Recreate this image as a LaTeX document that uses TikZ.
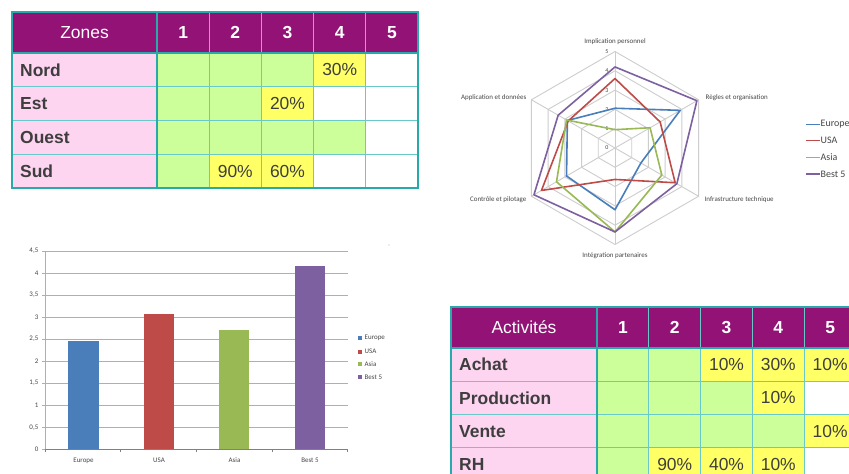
\documentclass[tikz,border=0pt]{standalone}
\usepackage{fontspec}
\setmainfont{Liberation Sans}
\newfontfamily\chartfont{Carlito}
\definecolor{hdr}{RGB}{146,18,118}
\definecolor{pinkc}{RGB}{253,213,241}
\definecolor{cellg}{RGB}{204,255,153}
\definecolor{celly}{RGB}{255,255,102}
\definecolor{cellw}{RGB}{255,255,255}
\definecolor{tealA}{RGB}{40,170,170}
\definecolor{tealB}{RGB}{105,200,200}
\definecolor{txtc}{RGB}{62,62,62}
\definecolor{eur}{RGB}{74,126,187}
\definecolor{usa}{RGB}{190,75,72}
\definecolor{asia}{RGB}{152,185,84}
\definecolor{best}{RGB}{125,96,160}
\definecolor{gridc}{RGB}{205,205,205}
\definecolor{gridb}{RGB}{175,175,175}
\definecolor{chtxt}{RGB}{70,70,70}
\tikzset{
  cellbase/.style={draw=tealB, line width=1bp, inner sep=0pt},
  hdrcell/.style={cellbase, fill=hdr, text=white},
  labcell/.style={cellbase, fill=pinkc},
  big/.style={font=\fontsize{17.5}{20}\selectfont},
  bigb/.style={font=\fontsize{17.5}{20}\selectfont\bfseries},
  rowtxt/.style={bigb, text=txtc, anchor=west, inner sep=0pt},
  pct/.style={big, text=txtc, inner sep=0pt},
  thickline/.style={line width=2.6bp, tealA},
  midline/.style={line width=1.6bp, tealA},
  radgrid/.style={gridc, line width=0.9bp},
  series/.style={line width=1.6bp, line join=round},
  tiny/.style={font=\chartfont\fontsize{7}{8}\selectfont, text=chtxt, inner sep=0.5pt},
  legtxt/.style={font=\chartfont\fontsize{10}{11}\selectfont, text=chtxt, anchor=west, inner sep=1pt},
  barleg/.style={font=\chartfont\fontsize{7}{8}\selectfont, text=chtxt, anchor=west, inner sep=0.5pt},
}
\begin{document}
\begin{tikzpicture}[x={(1bp,0)}, y={(0,-1bp)}]
\useasboundingbox (0,0) rectangle (849,474);
\fill[white] (0,0) rectangle (849,474);

% ================= Top-left table =================
\node[hdrcell, big, minimum width=145bp, minimum height=41bp] (zh0) at (84.5,32.5) {Zones};
\foreach \c in {1,...,5}
  \node[hdrcell, bigb, minimum width=52.2bp, minimum height=41bp] (zh\c) at ({157+(\c-0.5)*52.2},32.5) {\c};
\foreach \r/\lab/\cols in {1/Nord/{g,g,g,y,w},2/Est/{g,g,y,w,w},3/Ouest/{g,g,g,g,w},4/Sud/{g,y,y,w,w}}{
  \node[labcell, minimum width=145bp, minimum height=33.75bp] (zl\r) at (84.5,{53+(\r-0.5)*33.75}) {};
  \node[rowtxt] (zt\r) at (20,{53+(\r-0.5)*33.75}) {\lab};
  \foreach \cc [count=\c] in \cols
    \node[cellbase, fill=cell\cc, minimum width=52.2bp, minimum height=33.75bp] (z\r-\c) at ({157+(\c-0.5)*52.2},{53+(\r-0.5)*33.75}) {};
}
\node[pct] (zp1) at (z1-4) {30\%};
\node[pct] (zp2) at (z2-3) {20\%};
\node[pct] (zp3) at (z4-2) {90\%};
\node[pct] (zp4) at (z4-3) {60\%};
\draw[midline] (12,53) -- (418,53);
\draw[thickline] (157,12) -- (157,188);
\draw[thickline] (12,12) rectangle (418,188);

% ================= Bottom-right table =================
\node[hdrcell, big, minimum width=146bp, minimum height=41bp] (ah0) at (524,327.5) {Activités};
\foreach \c in {1,...,5}
  \node[hdrcell, bigb, minimum width=51.8bp, minimum height=41bp] (ah\c) at ({597+(\c-0.5)*51.8},327.5) {\c};
\foreach \r/\lab/\cols in {1/Achat/{g,g,y,y,y},2/Production/{g,g,g,y,w},3/Vente/{g,g,g,g,y},4/RH/{g,y,y,y,w}}{
  \node[labcell, minimum width=146bp, minimum height=33.25bp] (al\r) at (524,{348+(\r-0.5)*33.25}) {};
  \node[rowtxt] (at\r) at (459,{348+(\r-0.5)*33.25}) {\lab};
  \foreach \cc [count=\c] in \cols
    \node[cellbase, fill=cell\cc, minimum width=51.8bp, minimum height=33.25bp] (a\r-\c) at ({597+(\c-0.5)*51.8},{348+(\r-0.5)*33.25}) {};
}
\node[pct] (ap1) at (a1-3) {10\%};
\node[pct] (ap2) at (a1-4) {30\%};
\node[pct] (ap3) at (a1-5) {10\%};
\node[pct] (ap4) at (a2-4) {10\%};
\node[pct] (ap5) at (a3-5) {10\%};
\node[pct] (ap6) at (a4-2) {90\%};
\node[pct] (ap7) at (a4-3) {40\%};
\node[pct] (ap8) at (a4-4) {10\%};
\draw[midline] (451,348) -- (856,348);
\draw[thickline] (597,307) -- (597,481);
\draw[thickline] (451,307) rectangle (856,481);

% ================= Radar chart =================
\begin{scope}[shift={(615,148)}, x={(19.3bp,0)}, y={(0,19.3bp)}]
  \foreach \k in {1,...,5}
    \draw[radgrid] (90:\k) -- (30:\k) -- (-30:\k) -- (-90:\k) -- (210:\k) -- (150:\k) -- cycle;
  \foreach \a in {90,30,-30,-90,210,150}
    \draw[radgrid] (0,0) -- (\a:5);
  \foreach \k in {0,...,5}
    \node[tiny, font=\chartfont\fontsize{6}{7}\selectfont, fill=white, inner sep=0.3pt] (rs\k) at (-0.42,\k) {\k};
  \draw[series, eur] (90:2.06) -- (30:3.9) -- (-30:1.55) -- (-90:3.2) -- (210:2.9) -- (150:2.85) -- cycle;
  \draw[series, usa] (90:3.6) -- (30:2.7) -- (-30:3.6) -- (-90:1.63) -- (210:4.4) -- (150:2.8) -- cycle;
  \draw[series, asia] (90:0.95) -- (30:2.1) -- (-30:2.8) -- (-90:4.35) -- (210:3.5) -- (150:2.9) -- cycle;
  \draw[series, best] (90:4.2) -- (30:4.9) -- (-30:3.7) -- (-90:4.35) -- (210:4.85) -- (150:3.4) -- cycle;
\end{scope}
\node[tiny] (ax1) at (615,42) {Implication personnel};
\node[tiny, anchor=west] (ax2) at (705,98) {Règles et organisation};
\node[tiny, anchor=west] (ax3) at (704,200) {Infrastructure technique};
\node[tiny] (ax4) at (615,256) {Intégration partenaires};
\node[tiny, anchor=east] (ax5) at (527,200) {Contrôle et pilotage};
\node[tiny, anchor=east] (ax6) at (527,98) {Application et données};
\foreach \col/\lab/\yy in {eur/Europe/124.3,usa/USA/140.7,asia/Asia/157.3,best/Best 5/174}{
  \coordinate (rl\col) at (806,\yy);
  \node[legtxt] (rt\col) at (819.5,\yy) {\lab};
  \draw[\col, line width=1.5bp] (rl\col) -- (rt\col.west);
}

% ================= Bar chart =================
\begin{scope}[shift={(45,449.3)}, x={(1bp,0)}, y={(0,44.07bp)}]
  \foreach \v in {0.5,1,1.5,2,2.5,3,3.5,4,4.5}
    \draw[gridb, line width=0.9bp] (0,\v) -- (302.7,\v);
  \draw[gridb, line width=0.9bp] (0,0) -- (0,4.5);
  \foreach \v in {0,0.5,1,1.5,2,2.5,3,3.5,4,4.5}
    \draw[gridb, line width=0.9bp] (-3,\v) -- (0,\v);
  \foreach \v/\t in {0/0,0.5/{0,5},1/1,1.5/{1,5},2/2,2.5/{2,5},3/3,3.5/{3,5},4/4,4.5/{4,5}}
    \node[tiny, anchor=east] (bt\t) at (-6,\v) {\t};
  \fill[eur] (23.3,0) rectangle (53.7,2.46);
  \fill[usa] (99,0) rectangle (128.7,3.08);
  \fill[asia] (174,0) rectangle (204.3,2.70);
  \fill[best] (250,0) rectangle (280,4.17);
  \draw[gray, line width=0.9bp] (0,0) -- (302.7,0);
  \foreach \xx in {0,75.7,151.4,227.1,302.7}
    \draw[gray, line width=0.9bp] (\xx,0) -- (\xx,-0.07);
\end{scope}
\node[tiny] (bc1) at (83.5,460.5) {Europe};
\node[tiny] (bc2) at (159,460.5) {USA};
\node[tiny] (bc3) at (234.5,460.5) {Asia};
\node[tiny] (bc4) at (310,460.5) {Best 5};
\foreach \col/\lab/\yy in {eur/Europe/338.3,usa/USA/351.7,asia/Asia/364.3,best/Best 5/377}{
  \fill[\col] (358,{\yy-2}) rectangle (362,{\yy+2});
  \node[barleg] (bl\col) at (364,\yy) {\lab};
}
\fill[gray!60] (389,245) circle (0.6);
\end{tikzpicture}
\end{document}
